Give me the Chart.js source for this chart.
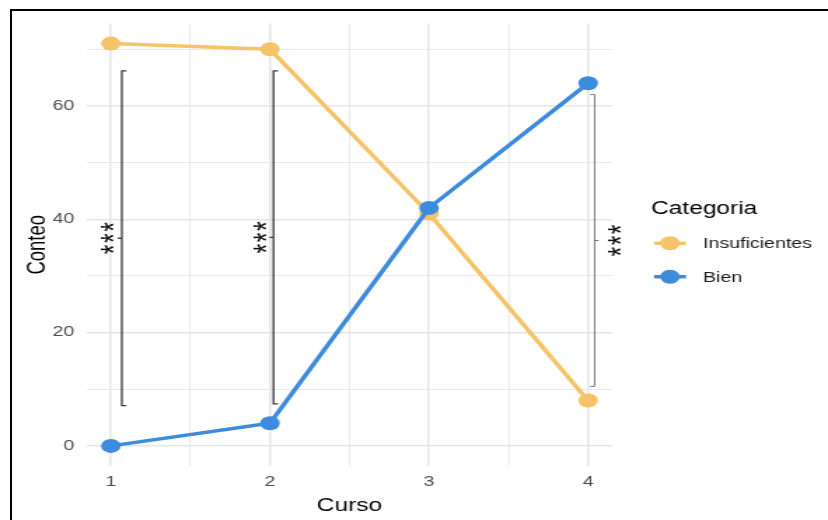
<!DOCTYPE html>
<html><head><meta charset="utf-8">
<script src="https://cdn.jsdelivr.net/npm/chart.js@4/dist/chart.umd.min.js"></script>
<style>
html,body{margin:0;padding:0;background:#fff;overflow:hidden;}
#wrap{position:relative;width:828px;height:520px;overflow:hidden;background:#fff;}
#c{position:absolute;left:0;top:0;}
#frame{position:absolute;left:10px;top:9px;width:840px;height:540px;border-top:2px solid #000;border-left:2px solid #000;pointer-events:none;}
</style></head>
<body><div id="wrap"><canvas id="c" width="591" height="520" style="width:828px;height:520px"></canvas><div id="frame"></div></div>
<script>
// ---- data ----
const cursos = [1, 2, 3, 4];
const insuficientes = [71, 70, 41, 8];
const bien = [0, 4, 42, 64];
const seriesNames = ['Insuficientes', 'Bien'];
const xTicks = [1, 1.5, 2, 2.5, 3, 3.5, 4];
const yTicks = [0, 10, 20, 30, 40, 50, 60, 70];
const sigCurso = [1, 2, 4];
const sigLow = [7.1, 7.4, 10.5];
const sigHigh = [66.2, 66.2, 62];
const sigLabels = ['***', '***', '***'];

// ---- styling ----
const SX = 828 / 591; // horizontal stretch of the canvas
const FONT = "'Liberation Sans', Arial, sans-serif";
const COL_INS = '#F5C469';
const COL_BIEN = '#3D8BDD';
const GRID = '#e6e6e6';
Chart.defaults.font.family = FONT;

const toPts = (xs, ys) => xs.map((x, i) => ({x: x, y: ys[i]}));

// bracket drawing specs (display-pixel offsets converted to buffer)
const brSpec = [
  {dx: 11, tick: 1, lw: 1.3, col: '#3a3a3a', sdx: -16},
  {dx: 3.5, tick: 1, lw: 1.3, col: '#3a3a3a', sdx: -14.5},
  {dx: 6.5, tick: -1, lw: 0.8, col: '#555555', sdx: 18.5}
];

const annot = {
  id: 'annot',
  afterDraw(chart) {
    const ctx = chart.ctx;
    const xs = chart.scales.x, ys = chart.scales.y;
    const ca = chart.chartArea;
    ctx.save();
    // brackets + stars
    sigCurso.forEach((c, i) => {
      const s = brSpec[i];
      const x = xs.getPixelForValue(c) + s.dx / SX;
      const y0 = ys.getPixelForValue(sigLow[i]);
      const y1 = ys.getPixelForValue(sigHigh[i]);
      const ym = (y0 + y1) / 2;
      const tl = 4.5 / SX;
      ctx.strokeStyle = s.col;
      ctx.lineWidth = s.lw;
      ctx.beginPath();
      ctx.moveTo(x + s.tick * tl, y1);
      ctx.lineTo(x, y1);
      ctx.lineTo(x, y0);
      ctx.lineTo(x + s.tick * tl, y0);
      ctx.moveTo(x, ym);
      ctx.lineTo(x - s.tick * 4 / SX, ym);
      ctx.stroke();
      // stars (rotated text)
      const fs = 25;
      const cx = x + s.sdx / SX;
      ctx.save();
      ctx.translate(cx + 0.57 * fs, ym);
      ctx.rotate(-Math.PI / 2);
      ctx.fillStyle = '#111';
      ctx.font = fs + 'px ' + FONT;
      ctx.textAlign = 'center';
      ctx.textBaseline = 'alphabetic';
      try { ctx.letterSpacing = '1.5px'; } catch (e) {}
      ctx.fillText(sigLabels[i], 0.75, 0);
      ctx.restore();
    });
    ctx.letterSpacing = '0px';
    // axis titles
    ctx.fillStyle = '#000';
    ctx.font = '17.5px ' + FONT;
    ctx.textAlign = 'center';
    ctx.textBaseline = 'alphabetic';
    ctx.fillText('Curso', (ca.left + ca.right) / 2, 511);
    ctx.save();
    ctx.font = '18.5px ' + FONT;
    ctx.translate(25 + 0.358 * 18.5, (ca.top + ca.bottom) / 2);
    ctx.rotate(-Math.PI / 2);
    ctx.fillText('Conteo', 0, 0);
    ctx.restore();
    // legend
    ctx.textAlign = 'left';
    ctx.fillText('Categoria', 651 / SX, 214);
    const rows = [243.3, 276.7];
    const cols = [COL_INS, COL_BIEN];
    const kx0 = 654 / SX, kx1 = 686 / SX, kc = (kx0 + kx1) / 2;
    rows.forEach((ry, i) => {
      ctx.strokeStyle = cols[i];
      ctx.lineWidth = 3.5;
      ctx.beginPath();
      ctx.moveTo(kx0, ry); ctx.lineTo(kx1, ry); ctx.stroke();
      ctx.fillStyle = cols[i];
      ctx.beginPath();
      ctx.arc(kc, ry, 7, 0, Math.PI * 2);
      ctx.fill();
      ctx.fillStyle = '#1a1a1a';
      ctx.font = '14px ' + FONT;
      ctx.fillText(seriesNames[i], 703 / SX, ry + 5);
    });
    ctx.restore();
  }
};

const gridW = (major, minor) => (c) => {
  const v = c.tick ? c.tick.value : 0;
  return major(v) ? 1.5 : minor;
};

new Chart(document.getElementById('c'), {
  type: 'line',
  data: {
    datasets: [
      {label: seriesNames[0], data: toPts(cursos, insuficientes), borderColor: COL_INS, backgroundColor: COL_INS,
       pointBackgroundColor: COL_INS, pointBorderWidth: 0, pointRadius: 7, borderWidth: 3.5, tension: 0, order: 1},
      {label: seriesNames[1], data: toPts(cursos, bien), borderColor: COL_BIEN, backgroundColor: COL_BIEN,
       pointBackgroundColor: COL_BIEN, pointBorderWidth: 0, pointRadius: 7, borderWidth: 3.5, tension: 0, order: 0}
    ]
  },
  options: {
    responsive: false,
    animation: false,
    devicePixelRatio: 1,
    layout: {padding: {left: 0, right: 591 - 612 / SX, top: 23.5, bottom: 0}},
    plugins: {legend: {display: false}, tooltip: {enabled: false}},
    scales: {
      x: {
        type: 'linear', min: 0.85, max: 4.15,
        afterBuildTicks: (s) => { s.ticks = xTicks.map(v => ({value: v})); },
        afterFit: (s) => { s.height = 54; },
        grid: {drawTicks: false, color: GRID, lineWidth: gridW(v => Number.isInteger(v), 0.8)},
        border: {display: false},
        ticks: {padding: 8, color: '#4d4d4d', font: {size: 14, family: FONT}, maxRotation: 0, autoSkip: false,
                callback: (v) => Number.isInteger(v) ? String(v) : ''}
      },
      y: {
        type: 'linear', min: -3.55, max: 74.55,
        afterBuildTicks: (s) => { s.ticks = yTicks.map(v => ({value: v})); },
        afterFit: (s) => { s.width = 87 / SX; },
        grid: {drawTicks: false, color: GRID, lineWidth: gridW(v => v % 20 === 0, 0.9)},
        border: {display: false},
        ticks: {padding: 9, color: '#4d4d4d', font: {size: 14, family: FONT}, autoSkip: false,
                callback: (v) => v % 20 === 0 ? String(v) : ''}
      }
    }
  },
  plugins: [annot]
});
</script>
</body></html>
